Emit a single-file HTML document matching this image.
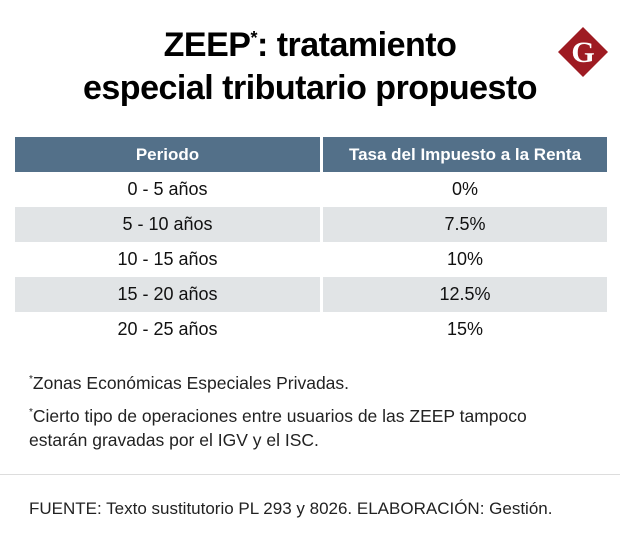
<!DOCTYPE html>
<html><head><meta charset="utf-8"><style>
body{margin:0;width:620px;height:555px;background:#fff;position:relative;overflow:hidden;font-family:"Liberation Sans",sans-serif;color:#111}
.t{position:absolute;left:0;width:620px;text-align:center;font-weight:bold;font-size:34px;letter-spacing:-0.5px;color:#000}
.cell{position:absolute;height:35px;line-height:35px;text-align:center;font-size:18px}
.h{background:#537089;color:#fff;font-weight:bold;font-size:17px}
.g{background:#e1e4e6}
.n{position:absolute;left:29px;font-size:17.5px;color:#222}
</style></head><body>
<div class="t" style="top:26px">ZEEP<sup style="font-size:18px;vertical-align:12px">*</sup>: tratamiento</div>
<div class="t" style="top:69px">especial tributario propuesto</div>
<svg style="position:absolute;left:556px;top:24px" width="54" height="56"><polygon points="27,3 52,28 27,53 2,28" fill="#9e1b22"/><text x="27" y="38" text-anchor="middle" font-family="Liberation Serif,serif" font-weight="bold" font-size="30" fill="#fff">G</text></svg>
<div id="tbl"></div>
<div class="n" style="top:373px"><sup style="font-size:10px">*</sup>Zonas Económicas Especiales Privadas.</div>
<div class="n" style="top:401px;line-height:24px"><sup style="font-size:10px">*</sup>Cierto tipo de operaciones entre usuarios de las ZEEP tampoco<br>estarán gravadas por el IGV y el ISC.</div>
<div style="position:absolute;left:0;top:474px;width:620px;height:1px;background:#ddd"></div>
<div class="n" style="top:499px;font-size:17px">FUENTE: Texto sustitutorio PL 293 y 8026. ELABORACIÓN: Gestión.</div>
<script>
const periods=["0 - 5 años","5 - 10 años","10 - 15 años","15 - 20 años","20 - 25 años"];
const rates=["0%","7.5%","10%","12.5%","15%"];
const headers=["Periodo","Tasa del Impuesto a la Renta"];
const tbl=document.getElementById('tbl');
function mk(txt,x,w,y,cls){const d=document.createElement('div');d.className='cell '+cls;d.style.left=x+'px';d.style.width=w+'px';d.style.top=y+'px';d.textContent=txt;tbl.appendChild(d);return d;}
let h1=mk(headers[0],15,305,137,'h');


let h2=mk(headers[1],323,284,137,'h');


periods.forEach((p,i)=>{
  const y=172+i*35, c=i%2?'g':'';
  const a=mk(p,15,305,y,c);
  
  
  const b=mk(rates[i],323,284,y,c);
  
  
});
</script>
</body></html>
